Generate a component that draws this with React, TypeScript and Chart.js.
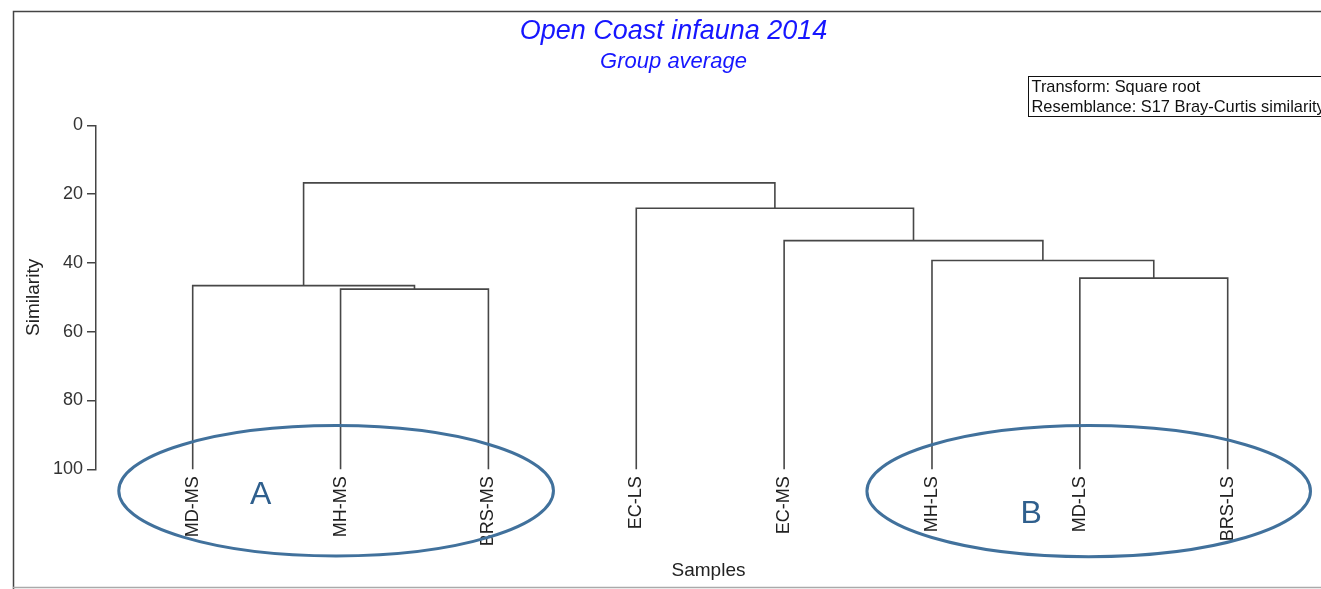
import React, { useEffect, useRef } from 'react';
import { Chart, registerables } from 'chart.js';

Chart.register(...registerables);

// ---- data ----
const leafNames = ['MD-MS', 'MH-MS', 'BRS-MS', 'EC-LS', 'EC-MS', 'MH-LS', 'MD-LS', 'BRS-LS'];
// merges: node indices (0..7 leaves, 8.. merged clusters in order)
const mergeLeft = [1, 0, 6, 5, 4, 3, 9];
const mergeRight = [2, 8, 7, 10, 11, 12, 13];
const mergeSimilarity = [47.6, 46.6, 44.4, 39.3, 33.5, 24.1, 16.7];
const yTickValues = [0, 20, 40, 60, 80, 100];

const groupNames = ['A', 'B'];
const groupXMin = [-0.5, 4.56];
const groupXMax = [2.44, 7.56];
const groupYTop = [87.3, 87.3];
const groupYBottom = [125.2, 125.4];
const groupLabelX = [0.46, 5.67];
const groupLabelY = [107.5, 113.0];

const infoLines = ['Transform: Square root', 'Resemblance: S17 Bray-Curtis similarity'];

const FONT = "'Liberation Sans', Arial, Helvetica, sans-serif";

function buildSegments() {
  const nodeX: number[] = leafNames.map((_, i) => i);
  const nodeY: number[] = leafNames.map(() => 100);
  return mergeLeft.map((a, k) => {
    const b = mergeRight[k];
    const h = mergeSimilarity[k];
    const pts = [
      { x: nodeX[a], y: nodeY[a] },
      { x: nodeX[a], y: h },
      { x: nodeX[b], y: h },
      { x: nodeX[b], y: nodeY[b] },
    ];
    nodeX.push((nodeX[a] + nodeX[b]) / 2);
    nodeY.push(h);
    return pts;
  });
}

const decorPlugin = {
  id: 'decor',
  beforeDraw(chart: any) {
    const ctx = chart.ctx;
    ctx.save();
    ctx.strokeStyle = '#444';
    ctx.lineWidth = 1.5;
    ctx.beginPath();
    ctx.moveTo(13.5, 589);
    ctx.lineTo(13.5, 11.5);
    ctx.lineTo(1321, 11.5);
    ctx.stroke();
    ctx.strokeStyle = '#aaa';
    ctx.beginPath();
    ctx.moveTo(13, 587.5);
    ctx.lineTo(1321, 587.5);
    ctx.stroke();
    ctx.restore();
  },
  afterDraw(chart: any) {
    const ctx = chart.ctx;
    const xs = chart.scales.x;
    const ys = chart.scales.y;
    ctx.save();
    groupNames.forEach((name, i) => {
      const x1 = xs.getPixelForValue(groupXMin[i]);
      const x2 = xs.getPixelForValue(groupXMax[i]);
      const y1 = ys.getPixelForValue(groupYTop[i]);
      const y2 = ys.getPixelForValue(groupYBottom[i]);
      ctx.beginPath();
      ctx.ellipse((x1 + x2) / 2, (y1 + y2) / 2, Math.abs(x2 - x1) / 2, Math.abs(y2 - y1) / 2, 0, 0, Math.PI * 2);
      ctx.strokeStyle = '#41719C';
      ctx.lineWidth = 3;
      ctx.stroke();
      ctx.fillStyle = '#2f5f8d';
      ctx.font = `32px ${FONT}`;
      ctx.textAlign = 'center';
      ctx.textBaseline = 'middle';
      ctx.fillText(name, xs.getPixelForValue(groupLabelX[i]), ys.getPixelForValue(groupLabelY[i]));
    });
    // info box
    ctx.strokeStyle = '#111';
    ctx.lineWidth = 1;
    ctx.strokeRect(1028.5, 76.5, 400, 40);
    ctx.fillStyle = '#111';
    ctx.font = `16.4px ${FONT}`;
    ctx.textAlign = 'left';
    ctx.textBaseline = 'middle';
    infoLines.forEach((t, i) => ctx.fillText(t, 1031.5, 87 + i * 20));
    ctx.restore();
  },
};

export default function App() {
  const canvasRef = useRef<HTMLCanvasElement | null>(null);

  useEffect(() => {
    const canvas = canvasRef.current;
    if (!canvas) return;
    const segments = buildSegments();
    const chart = new Chart(canvas, {
      type: 'scatter',
      data: {
        datasets: segments.map((pts) => ({
          data: pts,
          showLine: true,
          borderColor: '#474747',
          borderWidth: 1.6,
          pointRadius: 0,
          pointHoverRadius: 0,
          fill: false,
          tension: 0,
          clip: false,
        })),
      },
      options: {
        responsive: false,
        animation: false,
        events: [],
        layout: { padding: { left: 26, right: 0, top: 0, bottom: 0 } },
        plugins: {
          legend: { display: false },
          tooltip: { enabled: false },
          title: {
            display: true,
            text: 'Open Coast infauna 2014',
            color: '#1616ff',
            font: { family: FONT, size: 27, style: 'italic', weight: 'normal', lineHeight: 1.2 },
            padding: { top: 14.8, bottom: 0 },
          },
          subtitle: {
            display: true,
            text: 'Group average',
            color: '#1616ff',
            font: { family: FONT, size: 22, style: 'italic', weight: 'normal', lineHeight: 1.2 },
            padding: { top: 1.6, bottom: 50.2 },
          },
        },
        scales: {
          x: {
            type: 'linear',
            min: -0.654,
            max: 7.631,
            afterBuildTicks: (scale: any) => {
              scale.ticks = leafNames.map((_, i) => ({ value: i }));
            },
            afterFit: (scale: any) => {
              scale.height = 119.7;
            },
            grid: { display: false, drawTicks: false },
            border: { display: false },
            ticks: {
              autoSkip: false,
              minRotation: 90,
              maxRotation: 90,
              padding: 7,
              color: '#222',
              font: { family: FONT, size: 18 },
              callback: (v: any) => leafNames[Math.round(Number(v))] ?? '',
            },
            title: {
              display: true,
              text: 'Samples',
              color: '#222',
              font: { family: FONT, size: 19, lineHeight: 1.2 },
              padding: { top: 0, bottom: 6.6 },
            },
          },
          y: {
            type: 'linear',
            reverse: true,
            min: 0,
            max: 100,
            afterBuildTicks: (scale: any) => {
              scale.ticks = yTickValues.map((v) => ({ value: v }));
            },
            afterFit: (scale: any) => {
              scale.width = 70;
            },
            grid: { drawOnChartArea: false, drawTicks: true, tickLength: 9, color: '#444', lineWidth: 1.5 },
            border: { display: true, color: '#444', width: 1.5 },
            ticks: {
              padding: 4,
              color: '#333',
              font: { family: FONT, size: 18 },
            },
            title: {
              display: true,
              text: 'Similarity',
              color: '#222',
              font: { family: FONT, size: 19, lineHeight: 1.2 },
              padding: { top: -3.6, bottom: 0 },
            },
          },
        },
      },
      plugins: [decorPlugin],
    } as any);
    return () => chart.destroy();
  }, []);

  return (
    <div style={{ position: 'absolute', left: 0, top: 0, width: 1321, height: 589, background: '#fff' }}>
      <canvas ref={canvasRef} width={1321} height={589} style={{ display: 'block' }} />
    </div>
  );
}
